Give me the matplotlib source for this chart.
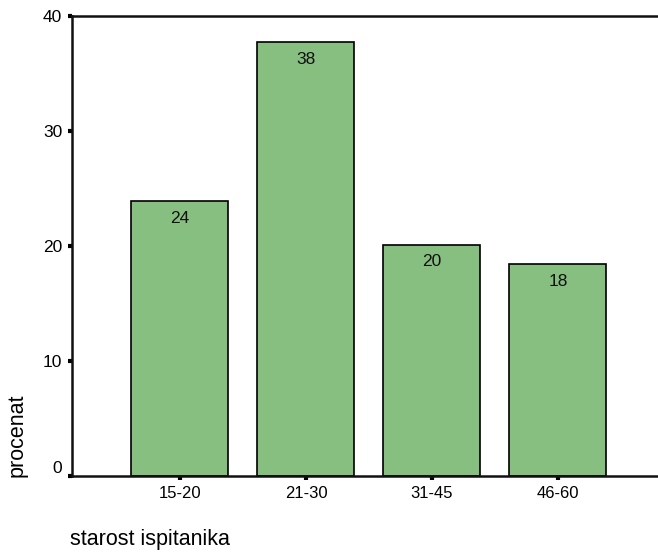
import matplotlib
matplotlib.use("Agg")
import matplotlib.pyplot as plt

categories = ["15-20", "21-30", "31-45", "46-60"]
values = [23.9, 37.7, 20.1, 18.4]
labels = ["24", "38", "20", "18"]
yticks = [0, 10, 20, 30, 40]

plt.rcParams['font.family'] = ['Liberation Sans', 'DejaVu Sans']

fig = plt.figure(figsize=(6.58, 5.54), dpi=100)
ax = fig.add_axes([72/658, 1-476/554, 1-72/658, (476-16)/554])

x = list(range(len(categories)))
bars = ax.bar(x, values, width=0.77, color="#86BF7F", edgecolor="black", linewidth=1.2, zorder=2)
for xi, v, lab in zip(x, values, labels):
    ax.annotate(lab, (xi, v), xytext=(0, -12.2), textcoords="offset points",
                ha="center", va="center", fontsize=12.5, color="#111111")

ax.set_xlim(-0.857, 3.794)
ax.set_ylim(0, 40)
ax.set_yticks(yticks)
ax.set_xticks(x)
ax.set_xticklabels(categories, fontsize=12)
ax.set_yticklabels([str(t) for t in yticks], fontsize=12.5)
ax.yaxis.get_ticklabels()[0].set_va("bottom")

ax.spines["right"].set_visible(False)
for s in ["left", "top", "bottom"]:
    ax.spines[s].set_linewidth(1.8)
    ax.spines[s].set_color("#111111")

ax.tick_params(axis="both", direction="out", length=3, width=3, color="black", pad=4)

fig.text(17/658, 1-477/554, "procenat", rotation=90, ha="center", va="bottom", fontsize=15.5)
fig.text(70/658, 1-540/554, "starost ispitanika", ha="left", va="center", fontsize=15.5)

fig.savefig("out.png", dpi=100)
